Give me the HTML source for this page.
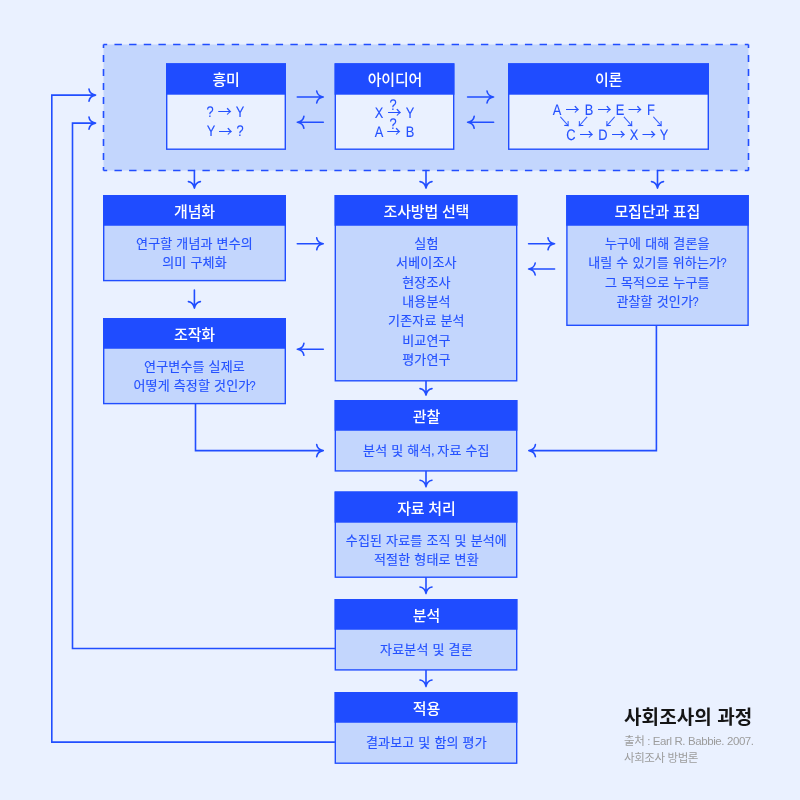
<!DOCTYPE html>
<html lang="ko">
<head>
<meta charset="utf-8">
<title>사회조사의 과정</title>
<style>
html,body{margin:0;padding:0;}
body{width:800px;height:800px;background:#EAF1FF;position:relative;overflow:hidden;
  font-family:"Liberation Sans","Noto Sans CJK KR",sans-serif;color:#2552FF;}
#shapes{position:absolute;left:0;top:0;width:800px;height:800px;}
.box{position:absolute;will-change:transform;}
.box h2{position:absolute;left:0;right:0;top:2.0px;height:30.75px;margin:0;color:#fff;
  font-size:15px;font-weight:500;line-height:30.75px;text-align:center;letter-spacing:-0.2px;white-space:nowrap;}
.box.top h2{top:2.0px;}
.box p{position:absolute;left:0;right:0;margin:0;text-align:center;font-size:13px;line-height:19.35px;
  letter-spacing:0.15px;word-spacing:0.2px;white-space:nowrap;-webkit-text-stroke:0.15px #2552FF;}
.q{display:inline-block;transform:scaleX(.84);margin:0 -1.1px;}
.cm{margin:0 -1.4px 0 -0.6px;}
.box p.f{top:0;height:0;letter-spacing:0;}
.f span{position:absolute;width:24px;margin-left:-12px;text-align:center;line-height:20px;height:20px;}
.f .l{-webkit-text-stroke:0.12px #2552FF;font-size:15.3px;transform:scaleX(0.84);text-rendering:geometricPrecision;}
.f .a{-webkit-text-stroke:0.1px #2552FF;font-family:"Noto Sans CJK KR",sans-serif;font-size:14px;}
.f .d{-webkit-text-stroke:0.1px #2552FF;font-family:"Noto Sans CJK KR",sans-serif;font-size:12.8px;}
#caption{position:absolute;will-change:transform;left:624px;top:703.5px;}
#caption h1{margin:0 0 1px;font-size:19px;font-weight:700;color:#151515;line-height:28px;letter-spacing:0.1px;white-space:nowrap;}
#caption p{margin:0;font-size:11.5px;color:#9c9c9c;line-height:17.3px;letter-spacing:-0.4px;white-space:nowrap;}
</style>
</head>
<body>
<svg id="shapes" viewBox="0 0 800 800" width="800" height="800" aria-hidden="true">
  <rect x="103.5" y="44.5" width="645" height="126" fill="#C3D6FD"/>
  <g fill="none" stroke="#214EFF" stroke-width="1.6">
    <path d="M103.5 44.5H748.5M103.5 170.5H748.5" stroke-dasharray="7.4 7.259" stroke-dashoffset="3.7"/>
    <path d="M103.5 44.5V170.5M748.5 44.5V170.5" stroke-dasharray="7.1 6.9" stroke-dashoffset="3.55"/>
  </g>
  <g fill="none" stroke="#214EFF" stroke-width="1.6" stroke-linecap="round" stroke-linejoin="miter">
    <path d="M297.30 97.00 L323.30 97.00 M316.70 103.00 C317.10 100.10 319.70 97.70 323.10 97.00 M316.70 91.00 C317.10 93.90 319.70 96.30 323.10 97.00"/>
    <path d="M323.30 122.30 L297.30 122.30 M303.90 116.30 C303.50 119.20 300.90 121.60 297.50 122.30 M303.90 128.30 C303.50 125.40 300.90 123.00 297.50 122.30"/>
    <path d="M467.60 97.00 L493.60 97.00 M487.00 103.00 C487.40 100.10 490.00 97.70 493.40 97.00 M487.00 91.00 C487.40 93.90 490.00 96.30 493.40 97.00"/>
    <path d="M493.60 122.30 L467.60 122.30 M474.20 116.30 C473.80 119.20 471.20 121.60 467.80 122.30 M474.20 128.30 C473.80 125.40 471.20 123.00 467.80 122.30"/>
    <path d="M194.40 170.50 L194.40 188.20 M188.40 181.60 C191.30 182.00 193.70 184.60 194.40 188.00 M200.40 181.60 C197.50 182.00 195.10 184.60 194.40 188.00"/>
    <path d="M426.00 170.50 L426.00 188.20 M420.00 181.60 C422.90 182.00 425.30 184.60 426.00 188.00 M432.00 181.60 C429.10 182.00 426.70 184.60 426.00 188.00"/>
    <path d="M657.50 170.50 L657.50 188.20 M651.50 181.60 C654.40 182.00 656.80 184.60 657.50 188.00 M663.50 181.60 C660.60 182.00 658.20 184.60 657.50 188.00"/>
    <path d="M297.30 243.80 L323.30 243.80 M316.70 249.80 C317.10 246.90 319.70 244.50 323.10 243.80 M316.70 237.80 C317.10 240.70 319.70 243.10 323.10 243.80"/>
    <path d="M323.30 349.30 L297.30 349.30 M303.90 343.30 C303.50 346.20 300.90 348.60 297.50 349.30 M303.90 355.30 C303.50 352.40 300.90 350.00 297.50 349.30"/>
    <path d="M528.60 243.80 L554.60 243.80 M548.00 249.80 C548.40 246.90 551.00 244.50 554.40 243.80 M548.00 237.80 C548.40 240.70 551.00 243.10 554.40 243.80"/>
    <path d="M554.60 269.00 L528.60 269.00 M535.20 263.00 C534.80 265.90 532.20 268.30 528.80 269.00 M535.20 275.00 C534.80 272.10 532.20 269.70 528.80 269.00"/>
    <path d="M194.40 290.00 L194.40 308.20 M188.40 301.60 C191.30 302.00 193.70 304.60 194.40 308.00 M200.40 301.60 C197.50 302.00 195.10 304.60 194.40 308.00"/>
    <path d="M195.50 404.00 L195.50 450.60 L323.30 450.60 M316.70 456.60 C317.10 453.70 319.70 451.30 323.10 450.60 M316.70 444.60 C317.10 447.50 319.70 449.90 323.10 450.60"/>
    <path d="M656.40 325.50 L656.40 450.60 L528.80 450.60 M535.40 444.60 C535.00 447.50 532.40 449.90 529.00 450.60 M535.40 456.60 C535.00 453.70 532.40 451.30 529.00 450.60"/>
    <path d="M426.00 381.20 L426.00 395.20 M420.00 388.60 C422.90 389.00 425.30 391.60 426.00 395.00 M432.00 388.60 C429.10 389.00 426.70 391.60 426.00 395.00"/>
    <path d="M426.00 471.30 L426.00 486.80 M420.00 480.20 C422.90 480.60 425.30 483.20 426.00 486.60 M432.00 480.20 C429.10 480.60 426.70 483.20 426.00 486.60"/>
    <path d="M426.00 577.60 L426.00 593.60 M420.00 587.00 C422.90 587.40 425.30 590.00 426.00 593.40 M432.00 587.00 C429.10 587.40 426.70 590.00 426.00 593.40"/>
    <path d="M426.00 670.60 L426.00 686.60 M420.00 680.00 C422.90 680.40 425.30 683.00 426.00 686.40 M432.00 680.00 C429.10 680.40 426.70 683.00 426.00 686.40"/>
    <path d="M334.60 742.10 L51.80 742.10 L51.80 95.10 L95.60 95.10 M89.00 101.10 C89.40 98.20 92.00 95.80 95.40 95.10 M89.00 89.10 C89.40 92.00 92.00 94.40 95.40 95.10"/>
    <path d="M334.60 648.50 L72.50 648.50 L72.50 123.10 L95.60 123.10 M89.00 129.10 C89.40 126.20 92.00 123.80 95.40 123.10 M89.00 117.10 C89.40 120.00 92.00 122.40 95.40 123.10"/>
  </g>
  <rect x="166.70" y="64.00" width="118.60" height="85.20" fill="#EAF1FF" stroke="#214EFF" stroke-width="1.4"/>
  <rect x="166.00" y="63.30" width="120.00" height="31.4" fill="#1F4CFF"/>
  <rect x="335.30" y="64.00" width="118.40" height="85.20" fill="#EAF1FF" stroke="#214EFF" stroke-width="1.4"/>
  <rect x="334.60" y="63.30" width="119.80" height="31.4" fill="#1F4CFF"/>
  <rect x="508.70" y="64.00" width="199.60" height="85.20" fill="#EAF1FF" stroke="#214EFF" stroke-width="1.4"/>
  <rect x="508.00" y="63.30" width="201.00" height="31.4" fill="#1F4CFF"/>
  <rect x="103.70" y="195.70" width="181.60" height="84.90" fill="#C3D6FD" stroke="#214EFF" stroke-width="1.4"/>
  <rect x="103.00" y="195.00" width="183.00" height="30.75" fill="#1F4CFF"/>
  <rect x="103.70" y="318.70" width="181.60" height="84.90" fill="#C3D6FD" stroke="#214EFF" stroke-width="1.4"/>
  <rect x="103.00" y="318.00" width="183.00" height="30.75" fill="#1F4CFF"/>
  <rect x="335.30" y="195.70" width="181.40" height="185.10" fill="#C3D6FD" stroke="#214EFF" stroke-width="1.4"/>
  <rect x="334.60" y="195.00" width="182.80" height="30.75" fill="#1F4CFF"/>
  <rect x="566.90" y="195.70" width="181.20" height="129.60" fill="#C3D6FD" stroke="#214EFF" stroke-width="1.4"/>
  <rect x="566.20" y="195.00" width="182.60" height="30.75" fill="#1F4CFF"/>
  <rect x="335.30" y="400.70" width="181.40" height="70.20" fill="#C3D6FD" stroke="#214EFF" stroke-width="1.4"/>
  <rect x="334.60" y="400.00" width="182.80" height="30.75" fill="#1F4CFF"/>
  <rect x="335.30" y="492.20" width="181.40" height="85.00" fill="#C3D6FD" stroke="#214EFF" stroke-width="1.4"/>
  <rect x="334.60" y="491.50" width="182.80" height="31.2" fill="#1F4CFF"/>
  <rect x="335.30" y="599.70" width="181.40" height="70.20" fill="#C3D6FD" stroke="#214EFF" stroke-width="1.4"/>
  <rect x="334.60" y="599.00" width="182.80" height="30.75" fill="#1F4CFF"/>
  <rect x="335.30" y="692.70" width="181.40" height="70.50" fill="#C3D6FD" stroke="#214EFF" stroke-width="1.4"/>
  <rect x="334.60" y="692.00" width="182.80" height="30.75" fill="#1F4CFF"/>
</svg>
<section class="box top" id="b1" style="left:166px;top:63.3px;width:120.0px;height:86.6px;">
  <h2>흥미</h2>
  <p class="f"><span class="l" style="left:44.40px;top:40.20px;">?</span><span class="a" style="left:58.70px;top:37.30px;">→</span><span class="l" style="left:73.90px;top:40.20px;">Y</span><span class="l" style="left:44.60px;top:59.30px;">Y</span><span class="a" style="left:59.40px;top:56.65px;">→</span><span class="l" style="left:74.40px;top:59.30px;">?</span></p>
</section>
<section class="box top" id="b2" style="left:334.6px;top:63.3px;width:119.8px;height:86.6px;">
  <h2>아이디어</h2>
  <p class="f"><span class="l" style="left:44.30px;top:41.15px;">X</span><span class="a" style="left:59.40px;top:38.10px;">→</span><span class="l" style="left:74.60px;top:41.15px;">Y</span><span class="l" style="left:58.10px;top:33.20px;">?</span><span class="l" style="left:43.60px;top:60.30px;">A</span><span class="a" style="left:58.80px;top:57.20px;">→</span><span class="l" style="left:74.90px;top:60.30px;">B</span><span class="l" style="left:58.10px;top:52.00px;">?</span></p>
</section>
<section class="box top" id="b3" style="left:508px;top:63.3px;width:201.0px;height:86.6px;">
  <h2>이론</h2>
  <p class="f"><span class="l" style="left:49.40px;top:38.10px;">A</span><span class="a" style="left:64.60px;top:35.30px;">→</span><span class="l" style="left:81.10px;top:38.10px;">B</span><span class="a" style="left:96.40px;top:35.30px;">→</span><span class="l" style="left:112.20px;top:38.10px;">E</span><span class="a" style="left:126.90px;top:35.30px;">→</span><span class="l" style="left:142.50px;top:38.10px;">F</span><span class="d" style="left:56.70px;top:48.25px;">↘</span><span class="d" style="left:75.00px;top:48.25px;">↙</span><span class="d" style="left:102.50px;top:48.25px;">↙</span><span class="d" style="left:120.10px;top:48.25px;">↘</span><span class="d" style="left:149.60px;top:48.25px;">↘</span><span class="l" style="left:63.20px;top:63.20px;">C</span><span class="a" style="left:78.60px;top:60.40px;">→</span><span class="l" style="left:95.20px;top:63.20px;">D</span><span class="a" style="left:110.60px;top:60.40px;">→</span><span class="l" style="left:125.90px;top:63.20px;">X</span><span class="a" style="left:141.00px;top:60.40px;">→</span><span class="l" style="left:156.20px;top:63.20px;">Y</span></p>
</section>
<section class="box" id="b4" style="left:103px;top:195px;width:183.0px;height:86.3px;">
  <h2>개념화</h2>
  <p style="top:38.90px;">연구할 개념과 변수의<br>의미 구체화</p>
</section>
<section class="box" id="b5" style="left:103px;top:318px;width:183.0px;height:86.3px;">
  <h2>조작화</h2>
  <p style="top:38.90px;">연구변수를 실제로<br>어떻게 측정할 것인가<span class="q">?</span></p>
</section>
<section class="box" id="b6" style="left:334.6px;top:195px;width:182.8px;height:186.5px;">
  <h2>조사방법 선택</h2>
  <p style="top:38.90px;">실험<br>서베이조사<br>현장조사<br>내용분석<br>기존자료 분석<br>비교연구<br>평가연구</p>
</section>
<section class="box" id="b7" style="left:566.2px;top:195px;width:182.6px;height:131.0px;">
  <h2>모집단과 표집</h2>
  <p style="top:38.90px;">누구에 대해 결론을<br>내릴 수 있기를 위하는가<span class="q">?</span><br>그 목적으로 누구를<br>관찰할 것인가<span class="q">?</span></p>
</section>
<section class="box" id="b8" style="left:334.6px;top:400px;width:182.8px;height:71.6px;">
  <h2>관찰</h2>
  <p style="top:40.90px;">분석 및 해석<span class="cm">,</span> 자료 수집</p>
</section>
<section class="box" id="b9" style="left:334.6px;top:491.5px;width:182.8px;height:86.4px;">
  <h2>자료 처리</h2>
  <p style="top:38.90px;">수집된 자료를 조직 및 분석에<br>적절한 형태로 변환</p>
</section>
<section class="box" id="b10" style="left:334.6px;top:599px;width:182.8px;height:71.6px;">
  <h2>분석</h2>
  <p style="top:40.90px;">자료분석 및 결론</p>
</section>
<section class="box" id="b11" style="left:334.6px;top:692px;width:182.8px;height:71.9px;">
  <h2>적용</h2>
  <p style="top:41.40px;">결과보고 및 함의 평가</p>
</section>
<div id="caption">
  <h1>사회조사의 과정</h1>
  <p>출처 : Earl R. Babbie. 2007.<br>사회조사 방법론</p>
</div>
</body>
</html>
